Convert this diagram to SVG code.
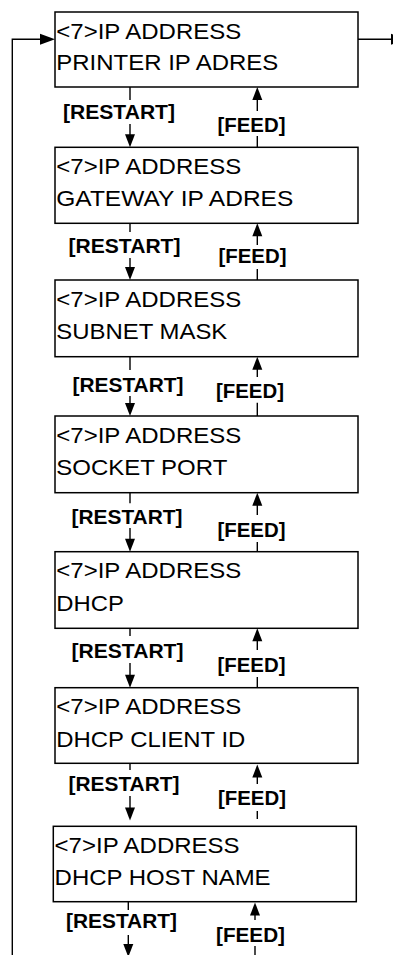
<svg xmlns="http://www.w3.org/2000/svg" xmlns:xlink="http://www.w3.org/1999/xlink" width="393" height="955" viewBox="0 0 393 955">
<style>
.box{fill:#fff;stroke:#000;stroke-width:1.5}
.t{font-family:"Liberation Sans",Arial,sans-serif;font-size:22.5px;fill:#000}
.l{font-family:"Liberation Sans",Arial,sans-serif;font-size:20.5px;font-weight:bold;fill:#000}
.c{fill:none;stroke:#000;stroke-width:1.4}
.ah{fill:#000}
</style>
<defs>
<polygon id="dn" points="0,0 -5,-13 5,-13"/>
<polygon id="up" points="0,0 -5,13 5,13"/>
<polygon id="rt" points="0,0 -15,-5.5 -15,5.5"/>
</defs>
<rect width="393" height="955" fill="#fff"/>
<g id="connectors">
<path class="c" d="M12.3,955 V39.3 H41 M358,39.3 H392"/>
<use href="#rt" class="ah" x="55" y="39.3"/>
<use href="#rt" class="ah" x="406" y="39.3"/>
<path class="c" d="M130,87 V100 M130,124 V135 M257.3,99 V111 M257.3,136 V147.3"/>
<use href="#dn" class="ah" x="130" y="147.3"/>
<use href="#up" class="ah" x="257.3" y="87"/>
<path class="c" d="M130,223.3 V232 M130,258 V268 M257.3,236 V245 M257.3,269 V280"/>
<use href="#dn" class="ah" x="130" y="280"/>
<use href="#up" class="ah" x="257.3" y="223.3"/>
<path class="c" d="M130,356.7 V370 M130,396 V404 M257.3,369 V377 M257.3,402.7 V416"/>
<use href="#dn" class="ah" x="130" y="416"/>
<use href="#up" class="ah" x="257.3" y="356.7"/>
<path class="c" d="M130,492.7 V503.3 M130,528 V539 M257.3,505 V515 M257.3,542 V551.7"/>
<use href="#dn" class="ah" x="130" y="551.7"/>
<use href="#up" class="ah" x="257.3" y="492.7"/>
<path class="c" d="M130,628.3 V636 M130,663 V675 M257.3,641 V650 M257.3,677 V687.7"/>
<use href="#dn" class="ah" x="130" y="687.7"/>
<use href="#up" class="ah" x="257.3" y="628.3"/>
<path class="c" d="M130,763.3 V770 M130,796 V808 M257.3,777 V784 M257.3,811 V819"/>
<use href="#dn" class="ah" x="130" y="820.5"/>
<use href="#up" class="ah" x="257.3" y="764.5"/>
<path class="c" d="M128.3,901.7 V910 M128.3,935 V944 M255,915 V920 M255,946 V955"/>
<use href="#dn" class="ah" x="128.3" y="957"/>
<use href="#up" class="ah" x="255" y="902.5"/>
</g>
<g id="labels">
<text class="l" x="63" y="119" textLength="112" lengthAdjust="spacingAndGlyphs">[RESTART]</text>
<text class="l" x="217.5" y="131.5" textLength="68" lengthAdjust="spacingAndGlyphs">[FEED]</text>
<text class="l" x="68.5" y="253.3" textLength="112" lengthAdjust="spacingAndGlyphs">[RESTART]</text>
<text class="l" x="218.5" y="263" textLength="68" lengthAdjust="spacingAndGlyphs">[FEED]</text>
<text class="l" x="72.5" y="391.7" textLength="111" lengthAdjust="spacingAndGlyphs">[RESTART]</text>
<text class="l" x="216" y="398.3" textLength="68" lengthAdjust="spacingAndGlyphs">[FEED]</text>
<text class="l" x="71.5" y="524.3" textLength="111" lengthAdjust="spacingAndGlyphs">[RESTART]</text>
<text class="l" x="217.5" y="536.7" textLength="68" lengthAdjust="spacingAndGlyphs">[FEED]</text>
<text class="l" x="71.5" y="658.3" textLength="112" lengthAdjust="spacingAndGlyphs">[RESTART]</text>
<text class="l" x="217.5" y="672.3" textLength="68" lengthAdjust="spacingAndGlyphs">[FEED]</text>
<text class="l" x="68.5" y="791" textLength="111" lengthAdjust="spacingAndGlyphs">[RESTART]</text>
<text class="l" x="218" y="804.5" textLength="68" lengthAdjust="spacingAndGlyphs">[FEED]</text>
<text class="l" x="66" y="928.3" textLength="111" lengthAdjust="spacingAndGlyphs">[RESTART]</text>
<text class="l" x="216" y="941.7" textLength="69" lengthAdjust="spacingAndGlyphs">[FEED]</text>
</g>
<g id="n1">
<rect class="box" x="55" y="12" width="303" height="75"/>
<text class="t" x="56.3" y="38.5" textLength="185" lengthAdjust="spacingAndGlyphs">&lt;7&gt;IP ADDRESS</text>
<text class="t" x="56.3" y="70" textLength="222" lengthAdjust="spacingAndGlyphs">PRINTER IP ADRES</text>
</g>
<g id="n2">
<rect class="box" x="55" y="147.3" width="303" height="76"/>
<text class="t" x="56.3" y="174" textLength="185" lengthAdjust="spacingAndGlyphs">&lt;7&gt;IP ADDRESS</text>
<text class="t" x="56.3" y="206" textLength="237" lengthAdjust="spacingAndGlyphs">GATEWAY IP ADRES</text>
</g>
<g id="n3">
<rect class="box" x="55" y="280" width="303" height="76.7"/>
<text class="t" x="56.3" y="306.7" textLength="185" lengthAdjust="spacingAndGlyphs">&lt;7&gt;IP ADDRESS</text>
<text class="t" x="56.3" y="339" textLength="171" lengthAdjust="spacingAndGlyphs">SUBNET MASK</text>
</g>
<g id="n4">
<rect class="box" x="55" y="416" width="303" height="76.7"/>
<text class="t" x="56.3" y="442.7" textLength="185" lengthAdjust="spacingAndGlyphs">&lt;7&gt;IP ADDRESS</text>
<text class="t" x="56.3" y="475" textLength="171" lengthAdjust="spacingAndGlyphs">SOCKET PORT</text>
</g>
<g id="n5">
<rect class="box" x="55" y="551.7" width="303" height="76.6"/>
<text class="t" x="56.3" y="578.3" textLength="185" lengthAdjust="spacingAndGlyphs">&lt;7&gt;IP ADDRESS</text>
<text class="t" x="56.3" y="610.7" textLength="67.5" lengthAdjust="spacingAndGlyphs">DHCP</text>
</g>
<g id="n6">
<rect class="box" x="55" y="687.7" width="303" height="75.6"/>
<text class="t" x="56.3" y="714.3" textLength="185" lengthAdjust="spacingAndGlyphs">&lt;7&gt;IP ADDRESS</text>
<text class="t" x="56.3" y="746.7" textLength="189" lengthAdjust="spacingAndGlyphs">DHCP CLIENT ID</text>
</g>
<g id="n7">
<rect class="box" x="53.3" y="826.3" width="303" height="75.4"/>
<text class="t" x="54.6" y="852.8" textLength="185" lengthAdjust="spacingAndGlyphs">&lt;7&gt;IP ADDRESS</text>
<text class="t" x="54.6" y="885" textLength="216" lengthAdjust="spacingAndGlyphs">DHCP HOST NAME</text>
</g>
</svg>
